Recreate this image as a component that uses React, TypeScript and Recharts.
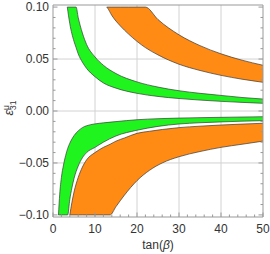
import React from 'react';
import { Area, CartesianGrid, ComposedChart, XAxis, YAxis } from 'recharts';

// upper green band (eps > 0)
const greenUpX = [3.4, 4, 5, 5.5, 6, 7, 8, 10, 12, 15, 20, 25, 30, 35, 40, 45, 50];
const greenUpLow = [0.1, 0.084, 0.067, 0.061, 0.055, 0.047, 0.041, 0.033, 0.027, 0.022, 0.017, 0.014, 0.012, 0.0105, 0.0093, 0.0083, 0.0074];
const greenUpHigh = [0.1, 0.1, 0.1, 0.1, 0.09, 0.075, 0.064, 0.052, 0.044, 0.036, 0.028, 0.023, 0.0195, 0.017, 0.015, 0.013, 0.0115];

// upper orange band
const orangeUpX = [12.8, 13, 14, 16, 18, 20, 22, 25, 30, 35, 40, 45, 50];
const orangeUpLow = [0.1, 0.099, 0.092, 0.082, 0.074, 0.067, 0.061, 0.054, 0.045, 0.039, 0.0343, 0.0306, 0.0276];
const orangeUpHigh = [0.1, 0.1, 0.1, 0.1, 0.1, 0.1, 0.1, 0.088, 0.0733, 0.0629, 0.055, 0.0489, 0.044];

// lower green band (eps < 0)
const greenDownX = [1.3, 1.6, 2, 2.5, 3, 3.5, 4, 4.5, 5, 6, 7, 8, 10, 12, 15, 20, 25, 30, 35, 40, 45, 50];
const greenDownLow = [-0.1, -0.1, -0.1, -0.1, -0.1, -0.1, -0.085, -0.074, -0.065, -0.053, -0.045, -0.04, -0.035, -0.03, -0.024, -0.0185, -0.0148, -0.0125, -0.0113, -0.0105, -0.0098, -0.0093];
const greenDownHigh = [-0.1, -0.08, -0.064, -0.052, -0.043, -0.036, -0.031, -0.027, -0.0237, -0.0192, -0.0160, -0.0142, -0.0124, -0.0114, -0.0102, -0.0084, -0.0074, -0.0068, -0.0064, -0.0061, -0.0058, -0.0055];

// lower orange band
const orangeDownX = [4, 4.5, 5, 6, 7, 8, 10, 12, 13.6, 15, 17, 20, 23, 26, 30, 35, 40, 45, 50];
const orangeDownLow = [-0.1, -0.1, -0.1, -0.1, -0.1, -0.1, -0.1, -0.1, -0.1, -0.092, -0.081, -0.067, -0.057, -0.05, -0.044, -0.039, -0.035, -0.032, -0.029];
const orangeDownHigh = [-0.1, -0.088, -0.078, -0.064, -0.054, -0.047, -0.04, -0.035, -0.032, -0.029, -0.026, -0.0215, -0.0195, -0.0178, -0.016, -0.0146, -0.0135, -0.0126, -0.0118];

const xTicks = [0, 2, 4, 6, 8, 10, 12, 14, 16, 18, 20, 22, 24, 26, 28, 30, 32, 34, 36, 38, 40, 42, 44, 46, 48, 50];
const yTicks = [-0.1, -0.09, -0.08, -0.07, -0.06, -0.05, -0.04, -0.03, -0.02, -0.01, 0, 0.01, 0.02, 0.03, 0.04, 0.05, 0.06, 0.07, 0.08, 0.09, 0.1];
const xGrid = [10, 20, 30, 40];
const yGrid = [-0.05, 0, 0.05];

const band = (xs: number[], lo: number[], hi: number[]) =>
  xs.map((x, i) => ({ x, range: [lo[i], hi[i]] }));

const FRAME = '#999';
const FONT = "'Liberation Sans', Arial, sans-serif";
const GREEN = '#1ff41f';
const ORANGE = '#ff8a14';
const EDGE = '#3a3a3a';

const isMajorX = (v: number) => v % 10 === 0;
const isMajorY = (v: number) => Math.round(v * 100) % 5 === 0;
const fmtY = (v: number) => (v < 0 ? '\u2212' : '') + Math.abs(v).toFixed(2);

const BottomTick = (props: any) => {
  const { x, y, payload } = props;
  const major = isMajorX(payload.value);
  return (
    <g>
      <line x1={x} x2={x} y1={y} y2={y - (major ? 4.5 : 2.5)} stroke={FRAME} />
      {major && (
        <text x={x} y={y + 16} textAnchor="middle" fontSize={12} fontFamily={FONT} fill="#333">
          {payload.value}
        </text>
      )}
    </g>
  );
};

const TopTick = (props: any) => {
  const { x, y, payload } = props;
  const major = isMajorX(payload.value);
  return <line x1={x} x2={x} y1={y} y2={y + (major ? 4.5 : 2.5)} stroke={FRAME} />;
};

const LeftTick = (props: any) => {
  const { x, y, payload } = props;
  const major = isMajorY(payload.value);
  return (
    <g>
      <line x1={x} x2={x + (major ? 4.5 : 2.5)} y1={y} y2={y} stroke={FRAME} />
      {major && (
        <text x={x - 4} y={y + 4.3} textAnchor="end" fontSize={12} fontFamily={FONT} fill="#333">
          {fmtY(payload.value)}
        </text>
      )}
    </g>
  );
};

const RightTick = (props: any) => {
  const { x, y, payload } = props;
  const major = isMajorY(payload.value);
  return <line x1={x} x2={x - (major ? 4.5 : 2.5)} y1={y} y2={y} stroke={FRAME} />;
};

const YLabel = () => (
  <text transform="translate(13,108) rotate(-90)" textAnchor="middle" fontSize={12.5} fontFamily={FONT} fill="#333">
    <tspan fontStyle="italic">ε</tspan>
    <tspan fontSize={8.5} dy={-4.5}>μ</tspan>
    <tspan fontSize={8.5} dx={-4.8} dy={7.5}>31</tspan>
  </text>
);

const XLabel = () => (
  <text x={158} y={249} textAnchor="middle" fontSize={12} fontFamily={FONT} fill="#333">
    tan(<tspan fontStyle="italic">β</tspan>)
  </text>
);

const App = () => {
  return (
    <div style={{ position: 'absolute', left: 0, top: 0, width: 270, height: 254, background: '#fff' }}>
      <ComposedChart width={270} height={254} margin={{ top: 4, right: 6, bottom: 0, left: 0 }}>
        <CartesianGrid
          stroke="#d2d2d2"
          horizontalValues={yGrid}
          verticalValues={xGrid}
        />
        <XAxis
          dataKey="x"
          type="number"
          domain={[0, 50]}
          ticks={xTicks}
          interval={0}
          height={37}
          tickSize={0}
          tickMargin={0}
          tickLine={false}
          tick={<BottomTick />}
          stroke={FRAME}
          label={{ content: () => <XLabel /> }}
        />
        <XAxis
          xAxisId="top"
          orientation="top"
          dataKey="x"
          type="number"
          domain={[0, 50]}
          ticks={xTicks}
          interval={0}
          height={1}
          tickSize={0}
          tickMargin={0}
          tickLine={false}
          tick={<TopTick />}
          stroke={FRAME}
        />
        <YAxis
          type="number"
          domain={[-0.102, 0.102]}
          ticks={yTicks}
          interval={0}
          width={53}
          tickSize={0}
          tickMargin={0}
          tickLine={false}
          tick={<LeftTick />}
          stroke={FRAME}
          allowDataOverflow
          label={{ content: () => <YLabel /> }}
        />
        <YAxis
          yAxisId="right"
          orientation="right"
          type="number"
          domain={[-0.102, 0.102]}
          ticks={yTicks}
          interval={0}
          width={1}
          tickSize={0}
          tickMargin={0}
          tickLine={false}
          tick={<RightTick />}
          stroke={FRAME}
          allowDataOverflow
        />
        <Area
          data={band(greenUpX, greenUpLow, greenUpHigh)}
          dataKey="range"
          type="monotoneX"
          fill={GREEN}
          fillOpacity={1}
          stroke={EDGE}
          strokeWidth={0.7}
          isAnimationActive={false}
        />
        <Area
          data={band(orangeUpX, orangeUpLow, orangeUpHigh)}
          dataKey="range"
          type="monotoneX"
          fill={ORANGE}
          fillOpacity={1}
          stroke={EDGE}
          strokeWidth={0.7}
          isAnimationActive={false}
        />
        <Area
          data={band(greenDownX, greenDownLow, greenDownHigh)}
          dataKey="range"
          type="monotoneX"
          fill={GREEN}
          fillOpacity={1}
          stroke={EDGE}
          strokeWidth={0.7}
          isAnimationActive={false}
        />
        <Area
          data={band(orangeDownX, orangeDownLow, orangeDownHigh)}
          dataKey="range"
          type="monotoneX"
          fill={ORANGE}
          fillOpacity={1}
          stroke={EDGE}
          strokeWidth={0.7}
          isAnimationActive={false}
        />
      </ComposedChart>
    </div>
  );
};

export default App;
